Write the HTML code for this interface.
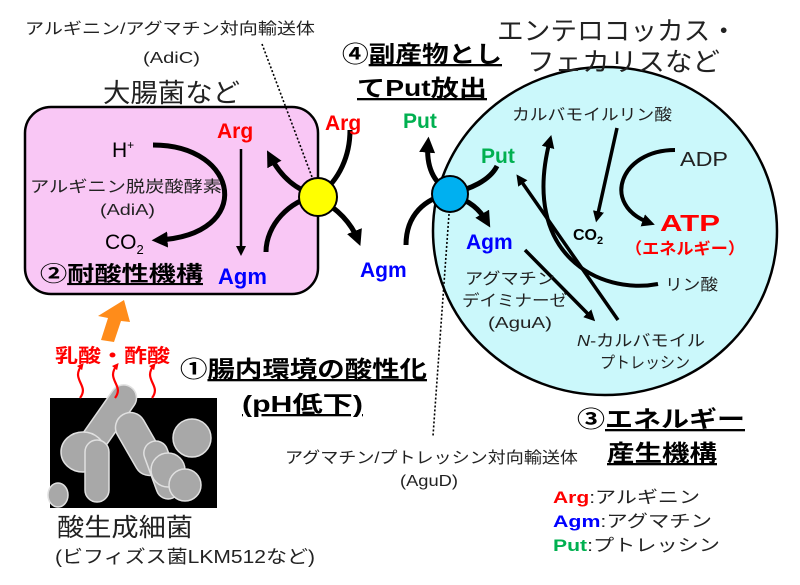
<!DOCTYPE html>
<html><head><meta charset="utf-8"><style>
html,body{margin:0;padding:0;background:#fff;}
svg{display:block;font-family:"Liberation Sans","Noto Sans CJK JP",sans-serif;}
.b{font-weight:bold;}
</style></head><body>
<svg width="800" height="585" viewBox="0 0 800 585" xmlns="http://www.w3.org/2000/svg">
<defs>
<marker id="ah" viewBox="0 0 10 10" refX="6" refY="5" markerWidth="3.2" markerHeight="3.2" orient="auto-start-reverse"><path d="M0,0 L10,5 L0,10 z" fill="#000"/></marker>
<marker id="ahs" viewBox="0 0 10 10" refX="6" refY="5" markerWidth="4" markerHeight="4" orient="auto"><path d="M0,0 L10,5 L0,10 z" fill="#000"/></marker>
<marker id="ahr" viewBox="0 0 10 10" refX="6" refY="5" markerWidth="3" markerHeight="3" orient="auto"><path d="M0,0 L10,5 L0,10 z" fill="#f00"/></marker>
</defs>
<rect x="25" y="107" width="293" height="187" rx="26" fill="#f9c7f5" stroke="#000" stroke-width="2.5"/>
<ellipse cx="605" cy="231" rx="172" ry="164" fill="#cbf8fb" stroke="#000" stroke-width="2.5"/>

<text x="25" y="34" font-size="16" fill="#222" textLength="290" lengthAdjust="spacingAndGlyphs">アルギニン/アグマチン対向輸送体</text>
<text x="143" y="63" font-size="16" fill="#222" textLength="57" lengthAdjust="spacingAndGlyphs">(AdiC)</text>
<text x="103" y="102" font-size="26" fill="#222" textLength="137" lengthAdjust="spacingAndGlyphs">大腸菌など</text>
<text x="342" y="62" font-size="23" class="b" textLength="160" lengthAdjust="spacingAndGlyphs">④<tspan text-decoration="underline">副産物とし</tspan></text>
<text x="357" y="96" font-size="23" class="b" text-decoration="underline" textLength="130" lengthAdjust="spacingAndGlyphs">てPut放出</text>
<text x="497" y="40" font-size="26" fill="#222" textLength="240" lengthAdjust="spacingAndGlyphs">エンテロコッカス・</text>
<text x="527" y="71" font-size="26" fill="#222" textLength="193" lengthAdjust="spacingAndGlyphs">フェカリスなど</text>

<text x="112" y="157" font-size="21">H<tspan font-size="12" dy="-8">+</tspan></text>
<path d="M153,145 C240,145 255,235 158,240" fill="none" stroke="#000" stroke-width="5" marker-end="url(#ah)"/>
<text x="30" y="192" font-size="16" fill="#222" textLength="192" lengthAdjust="spacingAndGlyphs">アルギニン脱炭酸酵素</text>
<text x="100" y="215" font-size="16" fill="#222" textLength="55" lengthAdjust="spacingAndGlyphs">(AdiA)</text>
<text x="105" y="249" font-size="21">CO<tspan font-size="13" dy="5">2</tspan></text>
<text x="40" y="281" font-size="21" class="b" textLength="163" lengthAdjust="spacingAndGlyphs">②<tspan text-decoration="underline">耐酸性機構</tspan></text>
<text x="217" y="138" font-size="21" class="b" fill="#f00">Arg</text>
<line x1="241" y1="149" x2="241" y2="252" stroke="#000" stroke-width="2.5" marker-end="url(#ahs)"/>
<text x="218" y="284" font-size="22" class="b" fill="#0000ff">Agm</text>

<path d="M316,195 C295,190 280,175 270,156" fill="none" stroke="#000" stroke-width="5" marker-end="url(#ah)"/>
<path d="M266,252 C266,225 290,200 316,196" fill="none" stroke="#000" stroke-width="5"/>
<path d="M318,196 C340,180 350,155 350,130" fill="none" stroke="#000" stroke-width="5"/>
<path d="M318,198 C340,210 352,225 358,240" fill="none" stroke="#000" stroke-width="5" marker-end="url(#ah)"/>
<circle cx="318" cy="197" r="19" fill="#ffff00" stroke="#000" stroke-width="2"/>
<text x="325" y="130" font-size="21" class="b" fill="#f00">Arg</text>
<text x="360" y="277" font-size="21" class="b" fill="#0000ff">Agm</text>

<path d="M450,192 C432,182 426,165 428,143" fill="none" stroke="#000" stroke-width="5" marker-end="url(#ah)"/>
<path d="M406,245 C406,215 425,198 450,194" fill="none" stroke="#000" stroke-width="5"/>
<path d="M450,193 C470,190 490,180 497,166" fill="none" stroke="#000" stroke-width="5"/>
<path d="M452,196 C470,200 480,210 487,222" fill="none" stroke="#000" stroke-width="5" marker-end="url(#ah)"/>
<circle cx="450" cy="194" r="18" fill="#00b0f0" stroke="#000" stroke-width="2"/>
<text x="403" y="128" font-size="21" class="b" fill="#00b050">Put</text>
<text x="481" y="163" font-size="21" class="b" fill="#00b050">Put</text>
<text x="466" y="249" font-size="21" class="b" fill="#0000ff">Agm</text>

<line x1="262" y1="44" x2="312" y2="177" stroke="#000" stroke-width="1.6" stroke-dasharray="2,2"/>
<line x1="449" y1="214" x2="433" y2="436" stroke="#000" stroke-width="1.6" stroke-dasharray="2,2"/>

<text x="512" y="120" font-size="16" fill="#222" textLength="160" lengthAdjust="spacingAndGlyphs">カルバモイルリン酸</text>
<line x1="617" y1="128" x2="597" y2="218" stroke="#000" stroke-width="3.5" marker-end="url(#ah)"/>
<text x="573" y="240" font-size="16" class="b">CO<tspan font-size="11" dy="4">2</tspan></text>
<text x="680" y="166" font-size="20" fill="#222" textLength="48" lengthAdjust="spacingAndGlyphs">ADP</text>
<path d="M675,150 C620,150 600,205 650,223" fill="none" stroke="#000" stroke-width="4" marker-end="url(#ah)"/>
<text x="660" y="231" font-size="23" class="b" fill="#f00" textLength="60" lengthAdjust="spacingAndGlyphs">ATP</text>
<text x="625" y="254" font-size="16" class="b" fill="#f00" textLength="120" lengthAdjust="spacingAndGlyphs">（エネルギー）</text>
<path d="M658,284 C600,295 520,255 550,140" fill="none" stroke="#000" stroke-width="4" marker-end="url(#ah)"/>
<text x="665" y="290" font-size="16" fill="#222" textLength="53" lengthAdjust="spacingAndGlyphs">リン酸</text>
<line x1="618" y1="320" x2="519" y2="178" stroke="#000" stroke-width="3.5" marker-end="url(#ah)"/>
<line x1="525" y1="250" x2="592" y2="318" stroke="#000" stroke-width="3.5" marker-end="url(#ah)"/>
<text x="465" y="284" font-size="16" fill="#222" textLength="90" lengthAdjust="spacingAndGlyphs">アグマチン</text>
<text x="462" y="306" font-size="16" fill="#222" textLength="105" lengthAdjust="spacingAndGlyphs">デイミナーゼ</text>
<text x="488" y="328" font-size="16" fill="#222" textLength="64" lengthAdjust="spacingAndGlyphs">(AguA)</text>
<text x="577" y="346" font-size="16" fill="#222" textLength="128" lengthAdjust="spacingAndGlyphs"><tspan font-style="italic">N</tspan>-カルバモイル</text>
<text x="600" y="368" font-size="16" fill="#222" textLength="90" lengthAdjust="spacingAndGlyphs">プトレッシン</text>

<text x="285" y="463" font-size="16" fill="#222" textLength="293" lengthAdjust="spacingAndGlyphs">アグマチン/プトレッシン対向輸送体</text>
<text x="400" y="486" font-size="16" fill="#222" textLength="58" lengthAdjust="spacingAndGlyphs">(AguD)</text>
<text x="577" y="427" font-size="23" class="b" textLength="168" lengthAdjust="spacingAndGlyphs">③<tspan text-decoration="underline">エネルギー</tspan></text>
<text x="607" y="461" font-size="23" class="b" text-decoration="underline" textLength="110" lengthAdjust="spacingAndGlyphs">産生機構</text>
<text x="553" y="503" font-size="17" textLength="147" lengthAdjust="spacingAndGlyphs"><tspan class="b" fill="#f00">Arg</tspan><tspan fill="#222">:アルギニン</tspan></text>
<text x="553" y="527" font-size="17" textLength="159" lengthAdjust="spacingAndGlyphs"><tspan class="b" fill="#0000ff">Agm</tspan><tspan fill="#222">:アグマチン</tspan></text>
<text x="553" y="551" font-size="17" textLength="167" lengthAdjust="spacingAndGlyphs"><tspan class="b" fill="#00b050">Put</tspan><tspan fill="#222">:プトレッシン</tspan></text>

<polygon points="101,340 108,318 98,316 124,300 130,322 121,321 114,342" fill="#ff8c1a"/>
<rect x="50" y="398" width="167" height="110" fill="#000"/>
<g fill="#a8a8a8" stroke="#e0e0e0" stroke-width="1.5">
<rect x="95" y="380" width="26" height="80" rx="13" transform="rotate(35 108 420)"/>
<ellipse cx="83" cy="452" rx="22" ry="20"/>
<rect x="85" y="440" width="24" height="62" rx="12"/>
<rect x="125" y="410" width="30" height="68" rx="15" transform="rotate(-30 140 444)"/>
<ellipse cx="192" cy="438" rx="19" ry="19"/>
<rect x="150" y="440" width="24" height="60" rx="12" transform="rotate(-20 162 470)"/>
<ellipse cx="168" cy="470" rx="17" ry="17"/>
<ellipse cx="185" cy="485" rx="16" ry="16"/>
<ellipse cx="58" cy="495" rx="10" ry="12"/>
</g>
<path d="M80,398 C90,385 70,380 82,365" fill="none" stroke="#f00" stroke-width="2.2" marker-end="url(#ahr)"/>
<path d="M115,398 C125,385 105,380 117,365" fill="none" stroke="#f00" stroke-width="2.2" marker-end="url(#ahr)"/>
<path d="M152,398 C162,385 142,380 154,365" fill="none" stroke="#f00" stroke-width="2.2" marker-end="url(#ahr)"/>
<text x="55" y="362" font-size="19" class="b" fill="#f00" textLength="115" lengthAdjust="spacingAndGlyphs">乳酸・酢酸</text>
<text x="180" y="377" font-size="23" class="b" textLength="247" lengthAdjust="spacingAndGlyphs">①<tspan text-decoration="underline">腸内環境の酸性化</tspan></text>
<text x="242" y="412" font-size="23" class="b" text-decoration="underline" textLength="121" lengthAdjust="spacingAndGlyphs">(pH低下)</text>
<text x="57" y="536" font-size="25" fill="#222" textLength="136" lengthAdjust="spacingAndGlyphs">酸生成細菌</text>
<text x="55" y="563" font-size="18" fill="#222" textLength="260" lengthAdjust="spacingAndGlyphs">(ビフィズス菌LKM512など)</text>
</svg>
</body></html>
